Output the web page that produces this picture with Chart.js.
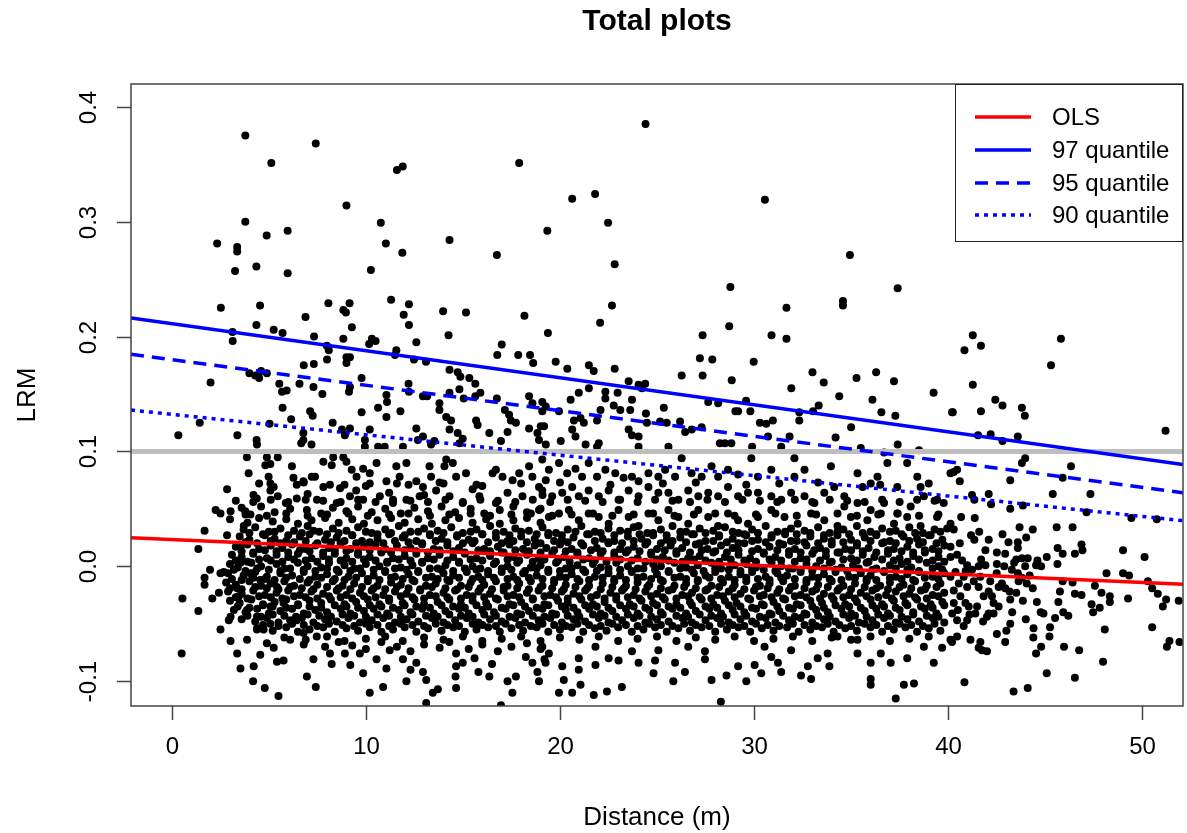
<!DOCTYPE html>
<html>
<head>
<meta charset="utf-8">
<title>Total plots</title>
<script src="https://cdn.jsdelivr.net/npm/chart.js@4.4.1/dist/chart.umd.min.js"></script>
<style>
  html, body { margin: 0; padding: 0; background: #fff; }
  #wrap { width: 1187px; height: 833px; }
</style>
</head>
<body>
<div id="wrap"><canvas id="chart" width="1187" height="833"></canvas></div>
<script>
// axes
const xRange = [-2.1, 52.1];
const yRange = [-0.1216, 0.4198];
const xTicks = [0, 10, 20, 30, 40, 50];
const yTicks = [-0.1, 0.0, 0.1, 0.2, 0.3, 0.4];
const yTickLabels = ['-0.1', '0.0', '0.1', '0.2', '0.3', '0.4'];

// fitted lines, value at the left and right end of the x axis
const lineEnds = [-2.1, 52.1];
const olsLine = [0.0249, -0.0157];
const q97Line = [0.2161, 0.0886];
const q95Line = [0.1845, 0.0641];
const q90Line = [0.1360, 0.0397];
const refLevel = 0.1;
const legendLabels = ['OLS', '97 quantile', '95 quantile', '90 quantile'];

// [distance, LRM]
const sparseHigh = [
[3.79,.375],[7.42,.368],[5.13,.351],[11.6,.345],[11.9,.348],[17.9,.351],[9.0,.314],[3.79,.300],[10.77,.299],[5.97,.292],[4.89,.288],[19.35,.292],[2.34,.281],[3.37,.278],[3.37,.274],[11.03,.281],[14.31,.284],[11.88,.273],[16.75,.271],[4.36,.261],[3.26,.257],[5.97,.255],[10.26,.258],[2.53,.225],[4.55,.227],[8.07,.229],[9.16,.229],[8.84,.223],[8.97,.221],[11.3,.232],[12.22,.228],[11.95,.219],[13.98,.222],[15.16,.221],[18.17,.218],[6.89,.217],[4.36,.210],[5.25,.206],[5.71,.203],[9.28,.208],[12.22,.210],[3.13,.204],[3.14,.196],[7.33,.200],[8.84,.198],[10.31,.198],[10.5,.196],[14.26,.201],[19.38,.203],[12.6,.195],[17.0,.193],
[24.41,.385],[20.63,.320],[21.81,.324],[30.56,.319],[22.48,.299],[22.82,.263],[34.94,.271],[28.78,.243],[37.4,.242],[22.68,.227],[31.67,.225],[34.58,.231],[34.58,.227],[22.07,.212],[27.35,.201],[28.72,.209],[30.9,.201],[31.67,.198],
[41.27,.201],[40.84,.188],[41.69,.192],[45.81,.198],[45.3,.175],[41.27,.158],[40.24,.134],[41.69,.135],[42.43,.145],[42.8,.140],[43.8,.138],[43.95,.131],[51.2,.118],[41.54,.114],[42.19,.115],[42.8,.109],[43.59,.113],
[10.17,.1935],[16.77,.184],[17.85,.184],[18.46,.184],[18.62,.177],[11.57,.188],[11.5,.184],[12.48,.180],[13.1,.178],[8.09,.188],[7.99,.192],[8.0,.180],[9.0,.182],[9.18,.182],[9.0,.177],[7.32,.176],[6.8,.175],[2.0,.160],[4.0,.168],[4.3,.166],[4.6,.170],[4.9,.168],[4.5,.164],[5.54,.159],[5.68,.152],[5.92,.153],[6.58,.159],[7.3,.156],[7.76,.150],[9.18,.156],[9.13,.152],[9.78,.164],[11.06,.149],[11.09,.143],[10.63,.138],[11.06,.130],[11.78,.135],[12.2,.159],[12.22,.152],[12.94,.148],[13.16,.148],[13.79,.142],[13.79,.136],[14.31,.171],[14.73,.169],[14.87,.165],[15.33,.164],[15.64,.159],[14.31,.151],[14.82,.154],[15.04,.146],[15.64,.148],[15.9,.151],[16.75,.146],[17.16,.136],[17.38,.132],[17.73,.125],[18.41,.148],[18.58,.142],[19.09,.143],[19.27,.139],[18.41,.120],[18.84,.116],[19.18,.122],[16.36,.116],[16.96,.109],[17.3,.117],[17.47,.127],[1.44,.125],[0.34,.114],[3.38,.114],[4.37,.110],[4.39,.106],[5.04,.124],[5.71,.138],[6.15,.128],[6.78,.116],[6.67,.107],[6.78,.110],[7.2,.106],[7.13,.135],[7.26,.131],[8.29,.125],[8.77,.119],[9.18,.120],[8.92,.114],[9.78,.134],[10.2,.119],[9.95,.110],[9.95,.104],[10.63,.104],[10.97,.104],[11.91,.104],[12.6,.120],[12.68,.110],[12.94,.113],[13.36,.106],[13.53,.109],[14.14,.130],[14.31,.119],[14.39,.127],[14.73,.116],[14.99,.111],[14.82,.107],[15.68,.127],[15.76,.123],[18.92,.110],[19.27,.106],
[19.78,.178],[20.38,.172],[21.49,.175],[21.74,.170],[22.82,.172],[27.21,.181],[27.85,.180],[27.35,.166],[29.98,.178],[26.27,.166],[28.85,.162],[33.01,.169],[33.59,.160],[35.28,.164],[36.29,.169],[37.21,.161],[31.92,.155],[34.39,.148],[39.25,.151],[36.1,.145],[36.56,.134],[37.28,.131],[40.2,.134],[33.33,.140],[33.04,.135],[35.0,.121],[32.33,.134],[32.33,.127],[29.59,.144],[29.81,.135],[29.18,.135],[29.04,.135],[30.3,.125],[30.63,.124],[30.97,.127],[30.72,.113],[31.83,.113],[31.4,.104],[29.9,.104],[28.24,.107],[28.5,.107],[28.83,.107],[27.3,.121],[27.64,.143],[28.15,.142],[26.19,.126],[26.45,.117],[26.79,.119],[25.35,.138],[25.59,.104],[24.43,.133],[24.48,.125],[25.16,.126],[25.5,.125],[23.62,.136],[23.71,.145],[23.11,.136],[22.77,.140],[22.34,.146],[22.09,.136],[21.91,.127],[23.54,.161],[24.05,.158],[24.39,.159],[24.22,.155],[22.97,.151],[22.34,.152],[21.49,.155],[20.97,.151],[20.55,.145],[19.09,.135],[19.01,.122],[19.95,.135],[20.72,.127],[21.06,.129],[21.23,.125],[20.63,.119],[20.8,.113],[20.04,.109],[21.32,.106],[22.0,.107],[21.91,.104],[24.05,.104],[23.71,.114],[24.05,.113],[23.54,.119],
[35.5,.103],[36.7,.099],[37.4,.106],[38.5,.101],[34.2,.112]
];

const midBand = [
[3.87,.095],[3.96,.081],[4.9,.095],[5.08,.089],[4.82,.088],[5.46,.095],[2.85,.067],[2.26,.049],[2.51,.046],[3.03,.048],[3.79,.048],[4.05,.045],[4.21,.062],[4.38,.059],[4.99,.078],[5.08,.072],[5.25,.069],[5.08,.066],[6.19,.087],[6.27,.077],[6.44,.071],[6.78,.074],[5.46,.061],[5.88,.055],[6.44,.059],[7.21,.078],[7.38,.078],[7.81,.091],[8.32,.095],[8.24,.088],[8.84,.095],[9.0,.091],[7.81,.069],[8.15,.071],[8.67,.068],[9.27,.084],[9.52,.078],[9.86,.085],[10.2,.081],[10.2,.072],[11.06,.074],[10.55,.090],[11.57,.087],[11.74,.078],[12.09,.090],[12.6,.074],[12.94,.069],[13.28,.087],[13.36,.078],[14.14,.093],[14.05,.087],[14.48,.090],[14.65,.078],[15.16,.081],[16.53,.081],[16.7,.084],[17.04,.078],[17.56,.075],[17.9,.081],[18.41,.087],[18.58,.078],[18.92,.069],[19.27,.075],[18.07,.061],[16.7,.055],[15.85,.061],[14.99,.055],[14.31,.061],[13.62,.066],[12.77,.061],[12.09,.058],[11.4,.055],[10.72,.061],[9.86,.058],[9.18,.061],[8.5,.055],[7.48,.058],[6.96,.049],
[3.6,.051],[4.6,.052],[5.3,.047],[6.1,.050],[7.7,.046],[8.3,.051],[9.0,.048],[9.6,.052],[10.3,.047],[11.0,.050],[11.8,.046],[12.5,.051],[13.2,.048],[13.9,.052],[14.6,.047],[15.4,.050],[16.1,.046],[16.9,.049],[17.6,.052],[18.3,.047],[19.0,.050],
[3.0,.041],[3.9,.038],[4.5,.042],[5.2,.039],[5.9,.041],[6.5,.037],[7.2,.040],[7.9,.042],[8.6,.038],[9.3,.041],[9.9,.037],[10.6,.040],[11.3,.042],[12.0,.038],[12.7,.041],[13.4,.037],[14.1,.040],[14.8,.042],[15.5,.038],[16.2,.041],[16.9,.037],[17.6,.040],[18.3,.042],[19.0,.038],
[7.0,.063],[9.5,.066],[11.2,.064],[13.0,.062],[15.5,.067],[17.3,.064],[19.1,.062],[10.0,.070],[12.2,.071],[14.0,.072],[16.0,.070],
[19.09,.093],[19.43,.084],[19.95,.090],[20.37,.081],[20.8,.085],[21.14,.078],[21.48,.090],[21.91,.078],[22.34,.084],[22.85,.081],[23.28,.077],[23.71,.078],[24.05,.074],[24.56,.081],[25.07,.078],[25.42,.084],[25.93,.078],[26.27,.094],[26.78,.081],[27.3,.078],[27.81,.087],[28.15,.078],[28.66,.084],[29.18,.080],[29.86,.094],[30.2,.078],[30.89,.084],[32.08,.094],[32.6,.084],[32.08,.078],[33.96,.087],[34.13,.069],[34.65,.061],[35.33,.081],[35.59,.069],[36.01,.072],[36.36,.078],[36.87,.090],[37.38,.069],[37.89,.090],[38.41,.078],[38.58,.069],[39.43,.058],[40.12,.081],
[19.09,.066],[19.6,.061],[20.12,.064],[20.63,.069],[20.97,.061],[21.48,.066],[22.0,.061],[22.51,.066],[23.02,.058],[23.54,.066],[24.05,.061],[24.56,.069],[25.07,.064],[25.59,.064],[26.1,.058],[26.61,.066],[27.13,.061],[27.64,.064],[28.15,.061],[28.66,.069],[29.18,.061],[29.69,.064],[30.2,.064],[30.89,.061],[31.4,.058],[31.91,.064],[32.6,.061],[33.11,.055],[33.62,.064],[34.65,.052],[35.33,.055],[36.01,.049],[36.7,.055],[37.38,.046],[38.07,.052],[38.75,.061],[39.77,.055],
[18.92,.049],[19.43,.043],[19.95,.046],[20.46,.049],[20.97,.040],[21.48,.046],[22.0,.043],[22.51,.037],[23.02,.049],[23.54,.043],[24.05,.035],[24.56,.046],[25.07,.040],[25.59,.049],[26.1,.043],[26.61,.037],[27.13,.049],[27.64,.043],[28.15,.035],[28.66,.046],[29.18,.040],[29.69,.037],[30.2,.043],[30.89,.049],[31.57,.043],[32.25,.037],[32.94,.046],[33.62,.040],[34.3,.035],[34.99,.043],[35.84,.040],[36.53,.046],[37.21,.037],[37.89,.043],[38.58,.035],[39.43,.043],[40.12,.037]
];

const midFill = [
[3.3,.057],[4.2,.056],[5.1,.058],[6.0,.056],[6.9,.058],[7.8,.057],[8.7,.056],[9.6,.058],[10.5,.056],[11.4,.058],[12.3,.057],[13.2,.056],[14.1,.058],[15.0,.056],[15.9,.058],[16.8,.057],[17.7,.056],[18.6,.058],[19.5,.056],[20.4,.058],[21.3,.057],[22.2,.056],[23.1,.058],[24.0,.056],[24.9,.058],[25.8,.057],[26.7,.056],[27.6,.058],[28.5,.056],[29.4,.058],[30.3,.057],[31.2,.056],[32.1,.058],[33.0,.056],[33.9,.058],[34.8,.057],[35.7,.056],[36.6,.058],[37.5,.056],[38.4,.058],[39.3,.057],
[3.8,.045],[4.9,.044],[5.9,.046],[7.0,.044],[8.0,.045],[9.1,.046],[10.1,.044],[11.2,.045],[12.2,.046],[13.3,.044],[14.3,.045],[15.4,.046],[16.4,.044],[17.5,.045],[18.5,.046],[19.6,.044],[20.6,.045],[21.7,.046],[22.7,.044],[23.8,.045],[24.8,.046],[25.9,.044],[26.9,.045],[28.0,.046],[29.0,.044],[30.1,.045],[31.1,.046],[32.2,.044],[33.2,.045],[34.3,.046],[35.3,.044],[36.4,.045],[37.4,.046],[38.5,.044],[39.5,.045],
[4.5,.072],[6.8,.073],[8.9,.071],[11.6,.072],[13.8,.073],[15.7,.071],[18.0,.072],[20.0,.073],[22.6,.071],[25.3,.072],[27.0,.073],[29.6,.071],[31.3,.072],[33.3,.073],[36.5,.071],[39.0,.072],
[40.5,-.038],[41.1,-.042],[41.8,-.048],[42.6,-.035],[43.3,-.040],[44.0,-.046],[40.9,-.004],[41.7,.006],[42.5,-.006],[43.4,.003],[44.2,-.008],[40.6,.020],[41.6,.030],[42.8,.028],[43.0,-.056],[44.4,-.054]
];

const coreCloud = [
[3.7,.032],[4.3,.034],[5.0,.030],[5.6,.033],[6.3,.031],[7.0,.035],[7.6,.030],[8.3,.033],[9.0,.031],[9.6,.034],[10.3,.029],[11.0,.032],[11.7,.035],[12.3,.030],[13.0,.033],[13.7,.031],[14.4,.034],[15.0,.029],[15.7,.032],[16.4,.035],[17.1,.030],[17.7,.033],[18.4,.031],[19.1,.034],[19.8,.029],[20.4,.032],[21.1,.035],[21.8,.030],[22.5,.033],[23.1,.031],[23.8,.034],[24.5,.029],[25.2,.032],[25.8,.035],[26.5,.030],[27.2,.033],[27.9,.031],[28.5,.034],[29.2,.029],[29.9,.032],[30.6,.035],[31.2,.030],[31.9,.033],[32.6,.031],[33.3,.034],[33.9,.029],[34.6,.032],[35.3,.035],[36.0,.030],[36.6,.033],[37.3,.031],[38.0,.034],[38.7,.029],[39.3,.032],
[3.5,.026],[4.0,.023],[4.8,.027],[5.3,.024],[5.9,.022],[6.6,.026],[7.1,.028],[7.9,.023],[8.5,.025],[9.3,.027],[9.8,.022],[10.6,.024],[11.2,.028],[11.9,.025],[12.6,.022],[13.3,.027],[13.9,.024],[14.7,.026],[15.3,.023],[16.0,.028],[16.7,.025],[17.3,.022],[18.0,.026],[18.7,.024],[19.4,.027],[20.1,.023],[20.7,.025],[21.5,.028],[22.2,.024],[22.8,.022],[23.5,.026],[24.2,.024],[24.8,.027],[25.5,.023],[26.2,.025],[26.9,.028],[27.5,.022],[28.2,.026],[28.9,.024],[29.6,.027],[30.2,.023],[30.9,.025],[31.6,.028],[32.2,.022],[32.9,.026],[33.6,.024],[34.3,.027],[35.0,.023],[35.7,.025],[36.3,.028],[37.0,.022],[37.7,.026],[38.4,.024],[39.1,.027],[39.7,.023],
[3.3,.017],[3.9,.019],[4.5,.015],[5.1,.018],[5.7,.016],[6.2,.019],[6.9,.015],[7.4,.018],[8.1,.016],[8.7,.020],[9.2,.015],[9.9,.017],[10.5,.019],[11.0,.015],[11.6,.018],[12.3,.016],[12.9,.019],[13.5,.015],[14.2,.018],[14.8,.016],[15.5,.020],[16.1,.015],[16.8,.017],[17.4,.019],[18.1,.015],[18.7,.018],[19.3,.016],[20.0,.019],[20.6,.015],[21.2,.018],[21.9,.016],[22.5,.020],[23.1,.015],[23.8,.017],[24.4,.019],[25.0,.015],[25.7,.018],[26.3,.016],[27.0,.019],[27.6,.015],[28.3,.018],[28.9,.016],[29.5,.020],[30.2,.015],[30.8,.017],[31.5,.019],[32.1,.015],[32.7,.018],[33.4,.016],[34.0,.019],[34.7,.015],[35.3,.018],[35.9,.016],[36.6,.020],[37.2,.015],[37.9,.017],[38.5,.019],[39.2,.015],[39.8,.018],
[3.1,.010],[3.6,.008],[4.2,.011],[4.9,.007],[5.4,.010],[6.0,.008],[6.5,.011],[7.2,.007],[7.8,.009],[8.4,.011],[9.0,.007],[9.6,.010],[10.2,.008],[10.8,.012],[11.4,.007],[12.0,.009],[12.6,.011],[13.2,.007],[13.8,.010],[14.5,.008],[15.1,.011],[15.7,.007],[16.4,.009],[17.0,.012],[17.6,.008],[18.3,.010],[18.9,.007],[19.6,.011],[20.2,.008],[20.9,.010],[21.5,.007],[22.1,.011],[22.8,.009],[23.4,.012],[24.0,.007],[24.7,.010],[25.3,.008],[26.0,.011],[26.6,.007],[27.2,.009],[27.9,.012],[28.5,.008],[29.2,.010],[29.8,.007],[30.5,.011],[31.1,.008],[31.8,.010],[32.4,.007],[33.0,.011],[33.7,.009],[34.3,.012],[35.0,.007],[35.6,.010],[36.2,.008],[36.9,.011],[37.5,.007],[38.2,.009],[38.8,.012],[39.5,.008],
[3.0,.002],[3.4,-.001],[4.1,.003],[4.6,.000],[5.4,.002],[5.8,-.002],[6.5,.003],[7.0,.000],[7.7,-.001],[8.1,.003],[8.9,.001],[9.4,-.002],[10.0,.002],[10.7,.000],[11.1,.003],[11.8,-.001],[12.4,.001],[12.9,.003],[13.7,-.002],[14.1,.001],[14.8,.003],[15.5,.000],[15.9,-.002],[16.6,.002],[17.3,.000],[17.8,.003],[18.5,-.001],[19.0,.001],[19.8,.003],[20.3,-.002],[20.9,.001],[21.7,.002],[22.1,-.001],[22.9,.003],[23.5,.000],[24.0,-.002],[24.8,.002],[25.2,.000],[25.9,.003],[26.5,-.001],[27.1,.001],[27.8,.003],[28.3,-.002],[29.0,.001],[29.6,.002],[30.1,-.001],[30.9,.003],[31.4,.000],[32.0,-.002],[32.7,.002],[33.2,.000],[33.9,.003],[34.5,-.001],[35.1,.001],[35.8,.003],[36.3,-.002],[37.0,.001],[37.6,.002],[38.1,-.001],[38.9,.003],[39.5,.000],
[2.9,-.006],[3.7,-.008],[4.3,-.005],[4.9,-.009],[5.6,-.006],[6.2,-.008],[6.8,-.005],[7.4,-.009],[8.0,-.007],[8.6,-.005],[9.1,-.009],[9.8,-.006],[10.4,-.008],[11.0,-.005],[11.5,-.009],[12.2,-.007],[12.7,-.005],[13.4,-.009],[14.0,-.006],[14.5,-.008],[15.2,-.005],[15.8,-.009],[16.3,-.007],[17.0,-.005],[17.6,-.009],[18.1,-.006],[18.8,-.008],[19.4,-.005],[20.0,-.009],[20.6,-.007],[21.3,-.005],[21.8,-.009],[22.5,-.006],[23.1,-.008],[23.7,-.005],[24.3,-.009],[25.0,-.007],[25.6,-.005],[26.2,-.009],[26.9,-.006],[27.5,-.008],[28.0,-.005],[28.7,-.009],[29.3,-.007],[29.9,-.005],[30.6,-.009],[31.2,-.006],[31.7,-.008],[32.4,-.005],[33.0,-.009],[33.6,-.007],[34.2,-.005],[34.9,-.009],[35.5,-.006],[36.0,-.008],[36.7,-.005],[37.3,-.009],[37.9,-.007],[38.5,-.005],[39.2,-.009],[39.8,-.006],
[2.8,-.014],[3.3,-.016],[4.0,-.013],[4.6,-.017],[5.1,-.015],[5.8,-.013],[6.3,-.017],[7.0,-.014],[7.5,-.016],[8.3,-.013],[8.8,-.017],[9.4,-.015],[10.1,-.013],[10.6,-.017],[11.3,-.014],[11.8,-.016],[12.5,-.013],[13.1,-.017],[13.6,-.015],[14.3,-.013],[14.9,-.017],[15.4,-.014],[16.1,-.016],[16.7,-.013],[17.3,-.017],[17.9,-.015],[18.5,-.013],[19.1,-.017],[19.7,-.014],[20.3,-.016],[21.0,-.013],[21.5,-.017],[22.2,-.015],[22.8,-.013],[23.4,-.017],[24.0,-.014],[24.6,-.016],[25.3,-.013],[25.9,-.017],[26.5,-.015],[27.1,-.013],[27.8,-.017],[28.4,-.014],[29.0,-.016],[29.6,-.013],[30.3,-.017],[30.8,-.015],[31.5,-.013],[32.1,-.017],[32.7,-.014],[33.3,-.016],[34.0,-.013],[34.6,-.017],[35.2,-.015],[35.8,-.013],[36.5,-.017],[37.0,-.014],[37.7,-.016],[38.3,-.013],[38.9,-.017],[39.6,-.015],
[2.9,-.022],[3.6,-.024],[4.2,-.021],[4.8,-.025],[5.4,-.023],[6.0,-.021],[6.6,-.025],[7.2,-.022],[7.8,-.024],[8.5,-.021],[9.0,-.025],[9.7,-.023],[10.3,-.021],[10.9,-.025],[11.5,-.022],[12.1,-.024],[12.8,-.021],[13.3,-.025],[14.0,-.023],[14.6,-.021],[15.2,-.025],[15.8,-.022],[16.4,-.024],[17.1,-.021],[17.6,-.025],[18.3,-.023],[18.9,-.021],[19.5,-.025],[20.1,-.022],[20.7,-.024],[21.3,-.021],[21.9,-.025],[22.6,-.023],[23.2,-.021],[23.8,-.025],[24.4,-.022],[25.0,-.024],[25.6,-.021],[26.3,-.025],[26.8,-.023],[27.5,-.021],[28.1,-.025],[28.7,-.022],[29.3,-.024],[30.0,-.021],[30.5,-.025],[31.2,-.023],[31.8,-.021],[32.4,-.025],[33.0,-.022],[33.6,-.024],[34.3,-.021],[34.9,-.025],[35.5,-.023],[36.1,-.021],[36.8,-.025],[37.3,-.022],[38.0,-.024],[38.6,-.021],[39.2,-.025],[39.8,-.023],
[3.0,-.030],[3.5,-.032],[4.1,-.029],[4.7,-.033],[5.3,-.031],[5.9,-.029],[6.5,-.033],[7.1,-.030],[7.7,-.032],[8.2,-.029],[8.9,-.033],[9.5,-.031],[10.1,-.029],[10.7,-.033],[11.2,-.030],[11.9,-.032],[12.5,-.029],[13.0,-.033],[13.7,-.031],[14.3,-.029],[14.9,-.033],[15.5,-.030],[16.2,-.032],[16.8,-.029],[17.4,-.033],[18.0,-.031],[18.6,-.029],[19.2,-.033],[19.9,-.030],[20.4,-.032],[21.1,-.029],[21.7,-.033],[22.3,-.031],[22.9,-.029],[23.6,-.033],[24.2,-.030],[24.8,-.032],[25.4,-.029],[26.0,-.033],[26.7,-.031],[27.3,-.029],[27.9,-.033],[28.5,-.030],[29.1,-.032],[29.8,-.029],[30.4,-.033],[31.0,-.031],[31.6,-.029],[32.2,-.033],[32.9,-.030],[33.5,-.032],[34.1,-.029],[34.7,-.033],[35.3,-.031],[36.0,-.029],[36.6,-.033],[37.2,-.030],[37.8,-.032],[38.4,-.029],[39.1,-.033],[39.7,-.031],
[3.2,-.038],[3.8,-.040],[4.4,-.037],[5.0,-.041],[5.6,-.039],[6.2,-.037],[6.8,-.041],[7.4,-.038],[8.0,-.040],[8.7,-.037],[9.2,-.041],[9.9,-.039],[10.4,-.037],[11.1,-.041],[11.7,-.038],[12.3,-.040],[12.9,-.037],[13.5,-.041],[14.1,-.039],[14.8,-.037],[15.3,-.041],[16.0,-.038],[16.6,-.040],[17.2,-.037],[17.8,-.041],[18.4,-.039],[19.1,-.037],[19.6,-.041],[20.3,-.038],[20.9,-.040],[21.5,-.037],[22.1,-.041],[22.7,-.039],[23.4,-.037],[24.0,-.041],[24.6,-.038],[25.2,-.040],[25.8,-.037],[26.5,-.041],[27.0,-.039],[27.7,-.037],[28.3,-.041],[28.9,-.038],[29.5,-.040],[30.1,-.037],[30.8,-.041],[31.3,-.039],[32.0,-.037],[32.6,-.041],[33.2,-.038],[33.8,-.040],[34.5,-.037],[35.0,-.041],[35.7,-.039],[36.3,-.037],[36.9,-.041],[37.5,-.038],[38.2,-.040],[38.8,-.037],[39.4,-.041],
[3.6,-.046],[4.3,-.048],[4.9,-.045],[5.5,-.049],[6.1,-.047],[6.7,-.045],[7.3,-.049],[7.9,-.046],[8.5,-.048],[9.1,-.045],[9.7,-.049],[10.3,-.047],[10.9,-.045],[11.5,-.049],[12.1,-.046],[12.7,-.048],[13.4,-.045],[14.0,-.049],[14.6,-.047],[15.2,-.045],[15.8,-.049],[16.4,-.046],[17.0,-.048],[17.7,-.045],[18.2,-.049],[18.9,-.047],[19.5,-.045],[20.1,-.049],[20.7,-.046],[21.3,-.048],[22.0,-.045],[22.5,-.049],[23.2,-.047],[23.8,-.045],[24.4,-.049],[25.0,-.046],[25.6,-.048],[26.3,-.045],[26.8,-.049],[27.5,-.047],[28.1,-.045],[28.7,-.049],[29.3,-.046],[29.9,-.048],[30.6,-.045],[31.1,-.049],[31.8,-.047],[32.4,-.045],[33.0,-.049],[33.6,-.046],[34.2,-.048],[34.9,-.045],[35.4,-.049],[36.1,-.047],[36.7,-.045],[37.3,-.049],[37.9,-.046],[38.5,-.048],[39.2,-.045],[39.8,-.049],
[4.4,-.054],[5.2,-.056],[5.9,-.053],[6.5,-.057],[7.1,-.055],[7.8,-.053],[8.4,-.057],[9.0,-.054],[9.6,-.056],[10.2,-.053],[10.8,-.057],[11.4,-.055],[12.0,-.053],[12.6,-.057],[13.2,-.054],[13.9,-.056],[14.5,-.053],[15.1,-.057],[15.7,-.055],[16.3,-.053],[16.9,-.057],[17.5,-.054],[18.1,-.056],[18.8,-.053],[19.4,-.057],[20.0,-.055],[20.6,-.053],[21.2,-.057],[21.8,-.054],[22.4,-.056],[23.0,-.053],[23.7,-.057],[24.3,-.055],[24.9,-.053],[25.5,-.057],[26.1,-.054],[26.7,-.056],[27.3,-.053],[28.0,-.057],[28.6,-.055],[29.2,-.053],[29.8,-.057],[30.4,-.054],[31.0,-.056],[31.7,-.053],[32.3,-.057],[32.9,-.055],[33.5,-.053],[34.1,-.057],[34.7,-.054],[35.3,-.056],[36.0,-.053],[36.6,-.057],[37.2,-.055],[37.8,-.053],[38.4,-.057],[39.0,-.054],[39.6,-.056],
[5.8,-.062],[6.9,-.064],[8.0,-.061],[8.9,-.065],[10.0,-.063],[11.0,-.061],[11.9,-.065],[13.0,-.062],[14.0,-.064],[15.0,-.061],[16.0,-.065],[17.0,-.063],[18.0,-.061],[19.0,-.065],[20.0,-.062],[21.0,-.064],[22.0,-.061],[23.0,-.065],[24.0,-.063],[25.0,-.061],[26.0,-.065],[27.0,-.062],[28.0,-.064],[29.0,-.061],[30.0,-.065],[31.0,-.063],[32.0,-.061],[33.0,-.065],[34.0,-.062],[35.0,-.064],[36.0,-.061],[37.0,-.065],[38.0,-.063],[39.0,-.061]
];

const coreFill = [
[4.0,.029],[4.7,.028],[5.3,.030],[6.0,.027],[6.7,.029],[7.3,.031],[8.0,.028],[8.6,.029],[9.3,.027],[10.0,.030],[10.6,.028],[11.3,.029],[12.0,.027],[12.7,.030],[13.3,.028],[14.0,.029],[14.7,.027],[15.4,.030],[16.0,.028],[16.7,.029],[17.4,.027],[18.0,.030],[18.8,.028],[19.4,.029],[20.1,.027],[20.8,.030],[21.4,.028],[22.1,.029],[22.8,.027],[23.5,.030],[24.1,.028],[24.8,.029],[25.5,.027],[26.2,.030],[26.8,.028],[27.5,.029],[28.2,.027],[28.9,.030],[29.5,.028],[30.2,.029],[30.9,.027],[31.6,.030],[32.2,.028],[32.9,.029],[33.6,.027],[34.3,.030],[34.9,.028],[35.6,.029],[36.3,.027],[37.0,.030],[37.6,.028],[38.3,.029],[39.0,.027],[39.6,.030],
[3.8,.021],[4.4,.020],[5.1,.022],[5.6,.020],[6.3,.021],[6.9,.022],[7.5,.020],[8.2,.021],[8.9,.022],[9.5,.020],[10.2,.021],[10.9,.020],[11.5,.022],[12.2,.021],[12.9,.020],[13.6,.022],[14.2,.021],[15.0,.020],[15.6,.022],[16.3,.021],[17.0,.020],[17.6,.022],[18.3,.021],[19.0,.020],[19.7,.022],[20.4,.021],[21.1,.020],[21.8,.022],[22.5,.021],[23.2,.020],[23.8,.022],[24.5,.021],[25.2,.020],[25.8,.022],[26.5,.021],[27.2,.020],[27.9,.022],[28.6,.021],[29.2,.020],[29.9,.022],[30.6,.021],[31.3,.020],[31.9,.022],[32.6,.021],[33.3,.020],[34.0,.022],[34.6,.021],[35.3,.020],[36.0,.022],[36.7,.021],[37.3,.020],[38.0,.022],[38.7,.021],[39.4,.020],
[3.6,.013],[4.2,.012],[4.8,.014],[5.4,.013],[6.0,.012],[6.6,.014],[7.1,.013],[7.8,.012],[8.4,.014],[9.0,.013],[9.6,.012],[10.2,.014],[10.8,.013],[11.3,.012],[12.0,.014],[12.6,.013],[13.2,.012],[13.8,.014],[14.5,.013],[15.1,.012],[15.8,.014],[16.4,.013],[17.1,.012],[17.7,.014],[18.4,.013],[19.0,.012],[19.7,.014],[20.3,.013],[20.9,.012],[21.6,.014],[22.2,.013],[22.8,.012],[23.5,.014],[24.1,.013],[24.7,.012],[25.4,.014],[26.0,.013],[26.7,.012],[27.3,.014],[28.0,.013],[28.6,.012],[29.2,.014],[29.9,.013],[30.5,.012],[31.2,.014],[31.8,.013],[32.4,.012],[33.1,.014],[33.7,.013],[34.4,.012],[35.0,.014],[35.6,.013],[36.3,.012],[36.9,.014],[37.6,.013],[38.2,.012],[38.8,.014],[39.5,.013],
[3.3,.005],[3.9,.004],[4.5,.006],[5.1,.005],[5.7,.004],[6.3,.006],[6.9,.005],[7.5,.004],[8.1,.006],[8.7,.005],[9.3,.004],[9.9,.006],[10.5,.005],[11.1,.004],[11.7,.006],[12.3,.005],[12.9,.004],[13.5,.006],[14.2,.005],[14.8,.004],[15.4,.006],[16.0,.005],[16.7,.004],[17.3,.006],[17.9,.005],[18.6,.004],[19.2,.006],[19.9,.005],[20.5,.004],[21.2,.006],[21.8,.005],[22.4,.004],[23.1,.006],[23.7,.005],[24.4,.004],[25.0,.006],[25.6,.005],[26.3,.004],[26.9,.006],[27.5,.005],[28.2,.004],[28.8,.006],[29.5,.005],[30.1,.004],[30.8,.006],[31.4,.005],[32.1,.004],[32.7,.006],[33.4,.005],[34.0,.004],[34.6,.006],[35.3,.005],[35.9,.004],[36.6,.006],[37.2,.005],[37.9,.004],[38.5,.006],[39.2,.005],[39.8,.004],
[3.2,-.003],[3.8,-.004],[4.4,-.002],[5.0,-.003],[5.6,-.004],[6.1,-.002],[6.8,-.003],[7.4,-.004],[8.0,-.002],[8.5,-.003],[9.2,-.004],[9.7,-.002],[10.4,-.003],[11.0,-.004],[11.5,-.002],[12.1,-.003],[12.7,-.004],[13.3,-.002],[13.9,-.003],[14.5,-.004],[15.1,-.002],[15.7,-.003],[16.3,-.004],[17.0,-.002],[17.5,-.003],[18.2,-.004],[18.8,-.002],[19.4,-.003],[20.0,-.004],[20.6,-.002],[21.2,-.003],[21.9,-.004],[22.5,-.002],[23.1,-.003],[23.7,-.004],[24.3,-.002],[24.9,-.003],[25.6,-.004],[26.2,-.002],[26.8,-.003],[27.4,-.004],[28.0,-.002],[28.7,-.003],[29.3,-.004],[29.9,-.002],[30.5,-.003],[31.1,-.004],[31.8,-.002],[32.4,-.003],[33.0,-.004],[33.6,-.002],[34.2,-.003],[34.8,-.004],[35.4,-.002],[36.1,-.003],[36.7,-.004],[37.3,-.002],[37.9,-.003],[38.5,-.004],[39.2,-.002],[39.7,-.003],
[3.1,-.011],[3.6,-.012],[4.2,-.010],[4.8,-.011],[5.3,-.012],[5.9,-.010],[6.6,-.011],[7.1,-.012],[7.7,-.010],[8.4,-.011],[8.9,-.012],[9.5,-.010],[10.1,-.011],[10.7,-.012],[11.3,-.010],[11.9,-.011],[12.4,-.012],[13.1,-.010],[13.7,-.011],[14.2,-.012],[14.8,-.010],[15.5,-.011],[16.0,-.012],[16.6,-.010],[17.3,-.011],[17.8,-.012],[18.4,-.010],[19.1,-.011],[19.7,-.012],[20.3,-.010],[20.9,-.011],[21.5,-.012],[22.2,-.010],[22.8,-.011],[23.4,-.012],[24.0,-.010],[24.7,-.011],[25.2,-.012],[25.9,-.010],[26.5,-.011],[27.1,-.012],[27.7,-.010],[28.3,-.011],[29.0,-.012],[29.6,-.010],[30.2,-.011],[30.8,-.012],[31.4,-.010],[32.1,-.011],[32.7,-.012],[33.3,-.010],[33.9,-.011],[34.5,-.012],[35.2,-.010],[35.8,-.011],[36.3,-.012],[37.0,-.010],[37.6,-.011],[38.2,-.012],[38.8,-.010],[39.5,-.011],
[3.0,-.019],[3.6,-.020],[4.3,-.018],[4.9,-.019],[5.5,-.020],[6.1,-.018],[6.7,-.019],[7.3,-.020],[8.0,-.018],[8.6,-.019],[9.2,-.020],[9.8,-.018],[10.4,-.019],[11.0,-.020],[11.6,-.018],[12.2,-.019],[12.8,-.020],[13.4,-.018],[14.1,-.019],[14.7,-.020],[15.3,-.018],[15.9,-.019],[16.5,-.020],[17.1,-.018],[17.8,-.019],[18.4,-.020],[19.0,-.018],[19.6,-.019],[20.2,-.020],[20.8,-.018],[21.4,-.019],[22.1,-.020],[22.7,-.018],[23.3,-.019],[23.9,-.020],[24.5,-.018],[25.2,-.019],[25.8,-.020],[26.4,-.018],[27.0,-.019],[27.6,-.020],[28.2,-.018],[28.9,-.019],[29.5,-.020],[30.1,-.018],[30.7,-.019],[31.3,-.020],[31.9,-.018],[32.6,-.019],[33.2,-.020],[33.8,-.018],[34.4,-.019],[35.0,-.020],[35.7,-.018],[36.3,-.019],[36.9,-.020],[37.5,-.018],[38.1,-.019],[38.8,-.020],[39.4,-.018],
[3.3,-.027],[3.9,-.028],[4.5,-.026],[5.1,-.027],[5.7,-.028],[6.3,-.026],[6.9,-.027],[7.5,-.028],[8.1,-.026],[8.7,-.027],[9.3,-.028],[9.9,-.026],[10.5,-.027],[11.2,-.028],[11.8,-.026],[12.4,-.027],[13.0,-.028],[13.6,-.026],[14.2,-.027],[14.9,-.028],[15.5,-.026],[16.1,-.027],[16.7,-.028],[17.3,-.026],[17.9,-.027],[18.6,-.028],[19.2,-.026],[19.8,-.027],[20.4,-.028],[21.0,-.026],[21.6,-.027],[22.3,-.028],[22.9,-.026],[23.5,-.027],[24.1,-.028],[24.7,-.026],[25.3,-.027],[26.0,-.028],[26.6,-.026],[27.2,-.027],[27.8,-.028],[28.4,-.026],[29.0,-.027],[29.7,-.028],[30.3,-.026],[30.9,-.027],[31.5,-.028],[32.1,-.026],[32.7,-.027],[33.4,-.028],[34.0,-.026],[34.6,-.027],[35.2,-.028],[35.8,-.026],[36.4,-.027],[37.1,-.028],[37.7,-.026],[38.3,-.027],[38.9,-.028],[39.5,-.026],
[3.4,-.035],[4.0,-.036],[4.7,-.034],[5.2,-.035],[5.9,-.036],[6.5,-.034],[7.1,-.035],[7.7,-.036],[8.4,-.034],[9.0,-.035],[9.6,-.036],[10.2,-.034],[10.8,-.035],[11.4,-.036],[12.0,-.034],[12.6,-.035],[13.3,-.036],[13.9,-.034],[14.5,-.035],[15.1,-.036],[15.7,-.034],[16.3,-.035],[17.0,-.036],[17.6,-.034],[18.2,-.035],[18.8,-.036],[19.4,-.034],[20.1,-.035],[20.7,-.036],[21.3,-.034],[21.9,-.035],[22.5,-.036],[23.1,-.034],[23.8,-.035],[24.4,-.036],[25.0,-.034],[25.6,-.035],[26.2,-.036],[26.8,-.034],[27.5,-.035],[28.1,-.036],[28.7,-.034],[29.3,-.035],[29.9,-.036],[30.5,-.034],[31.2,-.035],[31.8,-.036],[32.4,-.034],[33.0,-.035],[33.6,-.036],[34.2,-.034],[34.9,-.035],[35.5,-.036],[36.1,-.034],[36.7,-.035],[37.3,-.036],[37.9,-.034],[38.6,-.035],[39.2,-.036],[39.8,-.034],
[3.9,-.043],[4.6,-.044],[5.2,-.042],[5.8,-.043],[6.4,-.044],[7.0,-.042],[7.6,-.043],[8.2,-.044],[8.8,-.042],[9.4,-.043],[10.0,-.044],[10.6,-.042],[11.2,-.043],[11.8,-.044],[12.4,-.042],[13.1,-.043],[13.7,-.044],[14.3,-.042],[14.9,-.043],[15.5,-.044],[16.1,-.042],[16.7,-.043],[17.4,-.044],[18.0,-.042],[18.6,-.043],[19.2,-.044],[19.8,-.042],[20.4,-.043],[21.0,-.044],[21.7,-.042],[22.3,-.043],[22.9,-.044],[23.5,-.042],[24.1,-.043],[24.7,-.044],[25.3,-.042],[26.0,-.043],[26.6,-.044],[27.2,-.042],[27.8,-.043],[28.4,-.044],[29.0,-.042],[29.6,-.043],[30.3,-.044],[30.9,-.042],[31.5,-.043],[32.1,-.044],[32.7,-.042],[33.3,-.043],[33.9,-.044],[34.6,-.042],[35.2,-.043],[35.8,-.044],[36.4,-.042],[37.0,-.043],[37.6,-.044],[38.2,-.042],[38.9,-.043],[39.5,-.044],
[4.7,-.051],[5.5,-.052],[6.2,-.050],[6.8,-.051],[7.5,-.052],[8.1,-.050],[8.8,-.051],[9.4,-.052],[10.0,-.050],[10.6,-.051],[11.2,-.052],[11.8,-.050],[12.4,-.051],[13.0,-.052],[13.6,-.050],[14.2,-.051],[14.8,-.052],[15.5,-.050],[16.0,-.051],[16.7,-.052],[17.2,-.050],[17.9,-.051],[18.5,-.052],[19.1,-.050],[19.7,-.051],[20.3,-.052],[20.9,-.050],[21.5,-.051],[22.1,-.052],[22.7,-.050],[23.4,-.051],[24.0,-.052],[24.6,-.050],[25.2,-.051],[25.8,-.052],[26.4,-.050],[27.0,-.051],[27.7,-.052],[28.3,-.050],[28.9,-.051],[29.5,-.052],[30.1,-.050],[30.7,-.051],[31.3,-.052],[32.0,-.050],[32.6,-.051],[33.2,-.052],[33.8,-.050],[34.4,-.051],[35.0,-.052],[35.7,-.050],[36.3,-.051],[36.9,-.052],[37.5,-.050],[38.1,-.051],[38.7,-.052],[39.3,-.050]
];

const lowerFringe = [
[1.69,.031],[1.37,.015],[1.97,-.003],[1.69,-.010],[1.69,-.016],[2.51,-.006],[2.68,-.005],[2.09,-.028],[2.43,-.023],[0.55,-.028],[1.37,-.039],[0.51,-.076],[2.51,-.055],[3.03,-.065],[3.37,-.076],[3.54,-.089],[4.22,-.087],[4.19,-.100],[4.79,-.106],[5.5,-.113],[4.56,-.077],[5.42,-.083],[5.76,-.082],[5.25,-.071],[4.9,-.067],[3.03,-.044],[2.94,-.047],[3.45,-.026],[3.37,-.019],[3.54,.003],[2.85,.027],[3.71,.035],[3.54,.017],[4.05,-.006],[4.56,-.012],[3.88,-.038],[4.39,-.044],[4.73,-.055],[5.08,-.050],[4.39,-.055],[3.88,-.064],[5.08,-.035],[5.42,-.018],[5.76,-.032],[6.44,-.047],[6.79,-.058],[6.1,-.064],[6.96,-.096],[7.42,-.105],[7.47,-.061],[8.15,-.076],[8.24,-.085],[8.92,-.076],[9.69,-.076],[9.86,-.093],[10.2,-.110],[10.89,-.105],[10.55,-.081],[11.06,-.089],[11.23,-.073],[12.09,-.100],[13.11,-.119],[13.11,-.099],[13.45,-.110],[13.71,-.107],[12.94,-.092],[12.6,-.084],[11.91,-.081],[14.65,-.076],[14.99,-.084],[14.65,-.087],[14.62,-.096],[14.65,-.106],[16.36,-.096],[17.55,-.110],[17.3,-.100],[17.73,-.096],[18.84,-.092],[18.92,-.100],[18.58,-.084],[18.24,-.079],[16.96,-.121],
[6.8,-.068],[7.9,-.070],[8.6,-.066],[9.3,-.069],[10.0,-.072],[10.8,-.066],[11.6,-.070],[12.3,-.074],[13.0,-.068],[13.8,-.071],[14.3,-.066],[15.3,-.072],[16.0,-.068],[16.8,-.074],[17.5,-.070],[18.3,-.067],[19.0,-.072],[15.6,-.080],[16.5,-.085],[12.3,-.090],[9.2,-.086],[7.3,-.081],[19.2,-.081],[15.8,-.092],
[19.09,-.070],[19.43,-.076],[19.26,-.084],[20.12,-.087],[20.97,-.080],[20.97,-.090],[21.83,-.086],[22.51,-.080],[23.02,-.082],[19.95,-.110],[20.63,-.110],[20.2,-.099],[21.06,-.103],[21.74,-.112],[22.42,-.109],[23.19,-.105],[24.05,-.084],[24.82,-.093],[25.84,-.100],[26.44,-.092],[25.93,-.084],[27.81,-.099],[28.29,-.118],[28.58,-.095],[29.6,-.100],[29.18,-.087],[30.03,-.086],[30.37,-.093],[31.23,-.084],[31.4,-.092],[32.42,-.095],[32.77,-.087],[32.94,-.098],[33.28,-.080],[33.88,-.087],[33.79,-.076],[35.33,-.076],[36.01,-.098],[36.01,-.103],[36.53,-.076],[37.04,-.084],[37.72,-.103],[38.24,-.102],[37.3,-.115],[37.89,-.080],[39.26,-.084],[38.75,-.070],[39.69,-.071],[40.2,-.066],[35.33,-.064],[34.3,-.061],[31.91,-.073],[30.54,-.070],[27.47,-.074],[26.61,-.070],[25.07,-.073],[23.71,-.074],[21.83,-.070],[24.9,-.082],[27.47,-.081],[30.89,-.079],[36.01,-.084]
];

const rightFringe = [
[43.97,.094],[43.8,.090],[46.33,.087],[43.2,.075],[45.9,.077],[45.39,.063],[47.33,.063],[40.29,.082],[40.46,.084],[40.6,.074],[41.23,.062],[41.35,.058],[42.09,.063],[42.21,.054],[43.2,.050],[43.85,.053],[47.13,.047],[49.44,.042],[50.75,.041],[40.67,.043],[41.37,.042],[39.95,.033],[40.29,.032],[41.18,.027],[41.35,.023],[42.09,.023],[43.68,.034],[44.36,.032],[44.02,.025],[45.59,.034],[46.41,.034],[43.11,.021],[43.59,.021],[43.59,.016],[46.87,.019],[46.92,.014],[45.64,.016],[45.9,.011],[46.53,.011],[49.01,.014],[50.12,.008],[41.92,.014],[42.51,.012],[42.94,.011],[43.51,.006],[43.8,.007],[44.1,.007],[44.6,.005],[45.08,.008],[44.53,.001],[44.79,.000],[45.63,.002],[40.12,.017],[40.12,.008],[40.46,.010],[40.72,.005],[40.98,.001],[41.23,-.003],[41.57,.000],[41.92,.001],[42.51,.002],[42.89,.000],[43.28,-.003],[43.59,-.006],[43.97,.000],[48.16,-.006],[49.01,-.006],[49.32,-.008],[50.29,-.013],[50.51,-.019],[50.8,-.024],[51.23,-.029],[51.88,-.030],[51.06,-.035],[49.27,-.028],[48.33,-.026],[48.33,-.031],[47.9,-.023],[47.56,-.017],[47.39,-.033],[47.47,-.040],[47.81,-.036],[48.07,-.055],[50.51,-.053],[51.4,-.065],[51.27,-.070],[51.92,-.066],[46.41,-.014],[45.9,-.013],[46.53,-.024],[46.87,-.025],[45.76,-.022],[45.68,-.031],[45.93,-.040],[46.19,-.043],[45.51,-.045],[45.25,-.053],[45.22,-.061],[44.77,-.040],[44.91,-.041],[44.57,-.031],[44.36,-.019],[44.05,-.015],[43.8,-.010],[43.63,-.013],[43.85,-.030],[43.16,-.022],[43.51,-.023],[43.2,-.029],[42.6,-.018],[42.77,-.015],[42.94,-.019],[42.17,-.013],[42.09,-.022],[42.26,-.026],[42.34,-.032],[42.09,-.041],[42.34,-.041],[42.0,-.044],[43.2,-.050],[42.51,-.059],[41.66,-.066],[42.0,-.074],[42.94,-.066],[44.39,-.062],[44.79,-.070],[44.53,-.076],[45.97,-.070],[46.75,-.073],[45.08,-.093],[46.53,-.097],[47.98,-.083],[44.1,-.106],[43.37,-.109],[40.84,-.101],[41.74,-.073],[41.57,-.071],[41.15,-.064],[40.46,-.061],[40.12,-.064],[40.8,-.052],[40.98,-.047],[40.46,-.047],[40.21,-.041],[40.63,-.026],[40.89,-.032],[40.55,-.015],[40.98,-.018],[41.32,-.013],[41.57,-.018],[40.29,-.021],[41.06,-.035],[41.83,-.026],[41.66,-.009],[41.49,-.035],[41.4,-.041],[40.29,-.032],[40.12,-.009],[40.8,-.009],[40.38,-.005]
];

const FONT = '"Liberation Sans", Arial, Helvetica, sans-serif';

function toXY(pairs) {
    return pairs.map(function (p) { return { x: p[0], y: p[1] }; });
}
function lineData(ends) {
    return [{ x: lineEnds[0], y: ends[0] }, { x: lineEnds[1], y: ends[1] }];
}

const allPoints = [].concat(sparseHigh, midBand, midFill, coreCloud, coreFill, lowerFringe, rightFringe);

// R style box, ticks, labels and legend
const rFrame = {
    id: 'rFrame',
    afterDraw(chart) {
        const ctx = chart.ctx;
        const a = chart.chartArea;
        const xs = chart.scales.x;
        const ys = chart.scales.y;
        ctx.save();
        ctx.strokeStyle = '#444';
        ctx.lineWidth = 1.5;
        ctx.strokeRect(a.left, a.top, a.right - a.left, a.bottom - a.top);

        ctx.fillStyle = '#000';
        ctx.font = '24px ' + FONT;
        ctx.textAlign = 'center';
        ctx.textBaseline = 'middle';
        xTicks.forEach(function (v) {
            const px = Math.round(xs.getPixelForValue(v)) + 0.5;
            ctx.beginPath();
            ctx.moveTo(px, a.bottom);
            ctx.lineTo(px, a.bottom + 14);
            ctx.stroke();
            ctx.fillText(String(v), px, a.bottom + 41);
        });
        yTicks.forEach(function (v, i) {
            const py = Math.round(ys.getPixelForValue(v)) + 0.5;
            ctx.beginPath();
            ctx.moveTo(a.left, py);
            ctx.lineTo(a.left - 14, py);
            ctx.stroke();
            ctx.save();
            ctx.translate(a.left - 42, py);
            ctx.rotate(-Math.PI / 2);
            ctx.fillText(yTickLabels[i], 0, 0);
            ctx.restore();
        });

        // axis titles and main title
        ctx.font = '26px ' + FONT;
        ctx.fillText('Distance (m)', (a.left + a.right) / 2, 818);
        ctx.save();
        ctx.translate(28, (a.top + a.bottom) / 2);
        ctx.rotate(-Math.PI / 2);
        ctx.fillText('LRM', 0, 0);
        ctx.restore();
        ctx.font = 'bold 30px ' + FONT;
        ctx.fillText('Total plots', (a.left + a.right) / 2, 22);

        // legend
        const lx = 955, ly = a.top, lw = a.right - 955, lh = 158;
        ctx.fillStyle = '#fff';
        ctx.fillRect(lx, ly, lw, lh);
        ctx.strokeStyle = '#222';
        ctx.lineWidth = 1;
        ctx.strokeRect(lx + 0.5, ly + 0.5, lw - 1, lh - 1);
        ctx.font = '24px ' + FONT;
        ctx.textAlign = 'left';
        ctx.fillStyle = '#000';
        const rows = [117, 150, 183, 215];
        legendLabels.forEach(function (label, i) {
            const ds = chart.data.datasets[i + 1];
            ctx.save();
            ctx.strokeStyle = ds.borderColor;
            ctx.lineWidth = ds.borderWidth;
            ctx.setLineDash(ds.borderDash || []);
            ctx.beginPath();
            ctx.moveTo(975, rows[i]);
            ctx.lineTo(1031, rows[i]);
            ctx.stroke();
            ctx.restore();
            ctx.fillText(label, 1052, rows[i] + 1);
        });
        ctx.restore();
    }
};

new Chart(document.getElementById('chart'), {
    type: 'scatter',
    data: {
        datasets: [
            {
                label: 'reference',
                data: [{ x: lineEnds[0], y: refLevel }, { x: lineEnds[1], y: refLevel }],
                showLine: true,
                borderColor: '#bebebe',
                borderWidth: 5,
                pointRadius: 0,
                order: 5,
            },
            {
                label: legendLabels[0],
                data: lineData(olsLine),
                showLine: true,
                borderColor: '#ff0000',
                borderWidth: 3.5,
                pointRadius: 0,
                order: 1,
            },
            {
                label: legendLabels[1],
                data: lineData(q97Line),
                showLine: true,
                borderColor: '#0000ff',
                borderWidth: 3.5,
                pointRadius: 0,
                order: 1,
            },
            {
                label: legendLabels[2],
                data: lineData(q95Line),
                showLine: true,
                borderColor: '#0000ff',
                borderWidth: 3.5,
                borderDash: [13, 8],
                pointRadius: 0,
                order: 1,
            },
            {
                label: legendLabels[3],
                data: lineData(q90Line),
                showLine: true,
                borderColor: '#0000ff',
                borderWidth: 3.5,
                borderDash: [4, 5],
                pointRadius: 0,
                order: 1,
            },
            {
                label: 'plots',
                data: toXY(allPoints),
                backgroundColor: '#000',
                borderWidth: 0,
                pointRadius: 4,
                order: 10,
            },
        ],
    },
    options: {
        responsive: false,
        animation: false,
        devicePixelRatio: 1,
        layout: { padding: { left: 131, top: 84, right: 1, bottom: 127 } },
        plugins: {
            legend: { display: false },
            tooltip: { enabled: false },
            title: { display: false },
        },
        scales: {
            x: { type: 'linear', min: xRange[0], max: xRange[1], display: false },
            y: { type: 'linear', min: yRange[0], max: yRange[1], display: false },
        },
    },
    plugins: [rFrame],
});
</script>
</body>
</html>
